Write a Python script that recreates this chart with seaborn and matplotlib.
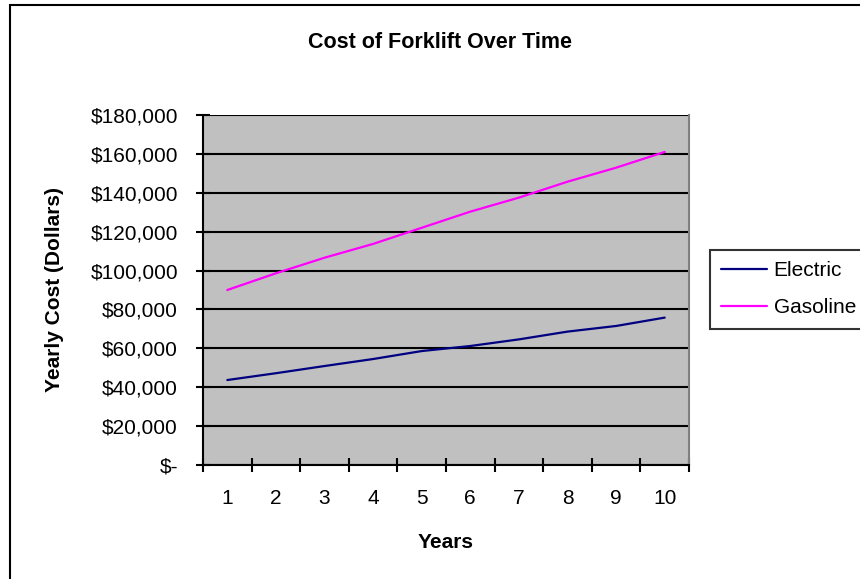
import pandas as pd
import numpy as np
import seaborn as sns
import matplotlib.pyplot as plt
import matplotlib.ticker as mticker
from matplotlib.patches import Rectangle

years = [1, 2, 3, 4, 5, 6, 7, 8, 9, 10]
electric = [43700, 47200, 50900, 54500, 58600, 61200, 64600, 68600, 71500, 75800]
gasoline = [90000, 98600, 106600, 113700, 122000, 130300, 137500, 145700, 152900, 161000]

df = pd.DataFrame({
    'Years': years * 2,
    'Cost': electric + gasoline,
    'Type': ['Electric'] * len(years) + ['Gasoline'] * len(years),
})

sns.set_style('white')
plt.rcParams['font.family'] = ['Liberation Sans', 'DejaVu Sans']
plt.rcParams['text.color'] = 'black'
plt.rcParams['xtick.color'] = 'black'
plt.rcParams['ytick.color'] = 'black'
plt.rcParams['axes.labelcolor'] = 'black'

fig = plt.figure(figsize=(8.6, 5.79), dpi=100)
ax = fig.add_axes([203 / 860, 1 - 465 / 579, (689 - 203) / 860, (465 - 115) / 579])

# outer chart border (Excel chart area)
fig.patches.append(Rectangle((10 / 860, -0.05), 1.0, 1 - 5 / 579 + 0.05, transform=fig.transFigure,
                             fill=False, edgecolor='black', linewidth=1.5, zorder=0))

ax.set_facecolor('#C0C0C0')
sns.lineplot(data=df, x='Years', y='Cost', hue='Type', ax=ax,
             palette={'Electric': '#000080', 'Gasoline': '#FF00FF'}, linewidth=1.6)

ax.set_xlim(0.5, 10.5)
ax.set_ylim(0, 180000)
ax.set_yticks(np.arange(0, 180001, 20000))
ax.yaxis.set_major_formatter(mticker.FuncFormatter(lambda v, p: '$-' if v == 0 else f'${v:,.0f}'))
ax.set_xticks(years)
ax.set_xticks(np.arange(0.5, 11, 1), minor=True)
ax.tick_params(axis='x', which='major', bottom=True, length=0, pad=17, labelsize=15)
ax.tick_params(axis='x', which='minor', bottom=True, direction='inout', length=10, width=1.5)
ax.tick_params(axis='y', which='major', left=True, direction='inout', length=10, width=1.5,
               pad=13, labelsize=15)
ax.grid(axis='y', color='black', linewidth=1.5)
ax.set_axisbelow(True)

for s in ['left', 'bottom']:
    ax.spines[s].set_color('black')
    ax.spines[s].set_linewidth(1.5)
ax.spines['right'].set_color('#808080')
ax.spines['right'].set_linewidth(1.5)
ax.spines['top'].set_visible(False)

ax.set_xlabel('Years', fontweight='bold', fontsize=15, labelpad=18)
ax.set_ylabel('Yearly Cost (Dollars)', fontweight='bold', fontsize=15, labelpad=19)
fig.text(440 / 860, 1 - 42 / 579, 'Cost of Forklift Over Time', ha='center', va='center',
         fontweight='bold', fontsize=15.5)

leg = ax.legend(loc='upper left', bbox_to_anchor=(710 / 860, 1 - 250 / 579),
                bbox_transform=fig.transFigure, frameon=True, fancybox=False,
                fontsize=15, handlelength=2.2, handletextpad=0.3, borderpad=0.55,
                labelspacing=0.85, borderaxespad=0)
leg.get_frame().set_edgecolor('black')
leg.get_frame().set_linewidth(1.5)
leg.get_frame().set_facecolor('white')
leg.set_title(None)

fig.savefig('out.png', dpi=100)
